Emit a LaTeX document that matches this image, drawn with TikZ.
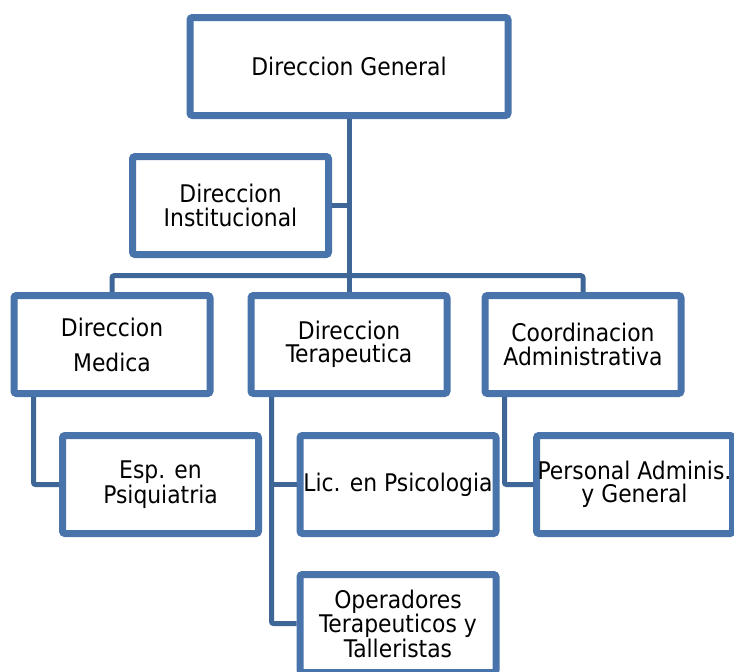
\documentclass[tikz,border=0pt]{standalone}
\usepackage{fontspec}
\setmainfont{DejaVu Sans Condensed}
\usetikzlibrary{shadows,calc}
\definecolor{boxblue}{RGB}{72,116,171}
\definecolor{linkblue}{RGB}{62,103,152}
\begin{document}
\begin{tikzpicture}[x=1pt,y=-1pt,
  orgbox/.style={draw=boxblue, line width=7pt, fill=white, rounded corners=2.5pt,
    inner sep=0pt, align=center, font=\fontsize{24.3}{23.5}\selectfont,
    minimum width=196pt, minimum height=98pt,
    drop shadow={shadow xshift=1.5pt, shadow yshift=-2.5pt, opacity=0.25}},
  widebox/.style={orgbox, minimum width=318pt},
  link/.style={draw=linkblue, line width=5pt, rounded corners=2pt}]
\useasboundingbox (0,0) rectangle (734,672);
% boxes
\node[widebox] (dg) at (349,66.5) {Direccion General};
\node[orgbox] (inst) at (230.5,205.5) {Direccion\\Institucional};
\node[orgbox] (med) at (112,344.5) {Direccion\\[11.5pt]Medica};
\node[orgbox] (terap) at (349,344.5) {Direccion\\Terapeutica};
\node[orgbox] (coord) at (583,344.5) {Coordinacion\\Administrativa};
\node[orgbox] (esp) at (160.5,484.5) {Esp. en\\Psiquiatria};
\node[orgbox] (lic) at (398,484.5) {Lic. en Psicologia};
\node[orgbox] (pers) at (634.5,484.5) {Personal Adminis.\\y General};
\node[orgbox] (oper) at (398,623.5) {Operadores\\Terapeuticos y\\Talleristas};
% connectors
\coordinate (bus) at (349,275.7);
\draw[link] (dg.south) -- (terap.north);
\draw[link] (inst.east) -- (inst.east -| dg.south);
\draw[link] (med.north) |- (bus) -| (coord.north);
\coordinate (mb) at ($(med.south west)+(23,0)$);
\draw[link] (mb) |- (esp.west);
\coordinate (tb) at ($(terap.south west)+(24,0)$);
\draw[link] (tb) |- (oper.west);
\draw[link] (tb |- lic.west) -- (lic.west);
\coordinate (cb) at ($(coord.south west)+(23,0)$);
\draw[link] (cb) |- (pers.west);
\end{tikzpicture}
\end{document}
